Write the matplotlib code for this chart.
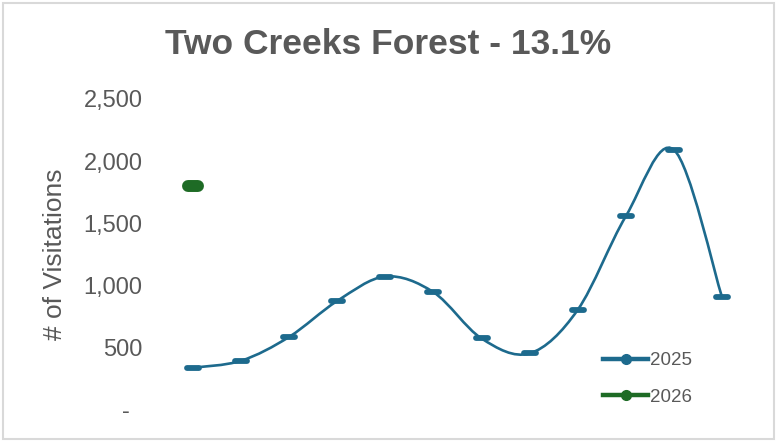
import matplotlib
matplotlib.use("Agg")
import matplotlib.pyplot as plt
from matplotlib.path import Path
from matplotlib.patches import PathPatch, Rectangle
from matplotlib.lines import Line2D
from matplotlib.markers import MarkerStyle

# data
months = ["Jan", "Feb", "Mar", "Apr", "May", "Jun",
          "Jul", "Aug", "Sep", "Oct", "Nov", "Dec"]
visits_2025 = [340, 396, 588, 877, 1073, 947, 575, 455, 805, 1557, 2092, 909]
visits_2026 = [1803]
y_ticks = [0, 500, 1000, 1500, 2000, 2500]
y_tick_labels = ["-  ", "500", "1,000", "1,500", "2,000", "2,500"]

BLUE = "#1D6A8D"
GREEN = "#1E6B25"
GREY = "#595959"


def smooth_path(xs, ys):
    # bezier segments like a spreadsheet "smoothed line"
    pts = list(zip(xs, ys))
    n = len(pts)
    verts = [pts[0]]
    codes = [Path.MOVETO]
    for i in range(n - 1):
        p0 = pts[i - 1] if i > 0 else pts[i]
        p1 = pts[i]
        p2 = pts[i + 1]
        p3 = pts[i + 2] if i + 2 < n else pts[i + 1]
        c1 = (p1[0] + (p2[0] - p0[0]) / 6, p1[1] + (p2[1] - p0[1]) / 6)
        c2 = (p2[0] - (p3[0] - p1[0]) / 6, p2[1] - (p3[1] - p1[1]) / 6)
        verts += [c1, c2, p2]
        codes += [Path.CURVE4] * 3
    return Path(verts, codes)


def main():
    plt.rcParams["font.family"] = ["Liberation Sans", "DejaVu Sans"]

    fig = plt.figure(figsize=(7.77, 4.42), dpi=100)
    ax = fig.add_axes([169 / 777, 1 - 410 / 442, 577 / 777, 311 / 442])

    x25 = list(range(len(visits_2025)))
    ax.add_patch(PathPatch(smooth_path(x25, visits_2025), facecolor="none",
                           edgecolor=BLUE, lw=1.9))
    ax.plot(x25, visits_2025, linestyle="none",
            marker=MarkerStyle("_", capstyle="round"), ms=8.5, mew=4.2,
            color=BLUE)

    x26 = list(range(len(visits_2026)))
    ax.plot(x26, visits_2026, linestyle="none",
            marker=MarkerStyle("_", capstyle="round"), ms=7.2, mew=8.6,
            color=GREEN)

    ax.set_xlim(-0.5, len(months) - 0.5)
    ax.set_ylim(0, 2500)
    ax.set_xticks([])
    ax.set_yticks(y_ticks)
    ax.set_yticklabels(y_tick_labels)
    ax.tick_params(axis="y", length=0, pad=19, labelsize=17, labelcolor=GREY)
    for s in ax.spines.values():
        s.set_visible(False)

    ax.set_ylabel("# of Visitations", fontsize=19, color=GREY, labelpad=12)

    fig.text(0.5, 1 - 44 / 442, "Two Creeks Forest - 13.1%", ha="center",
             va="center", fontsize=25.5, fontweight="bold", color=GREY)

    handles = [
        Line2D([], [], color=BLUE, lw=3.2, marker="o", ms=7),
        Line2D([], [], color=GREEN, lw=3.2, marker="o", ms=7),
    ]
    fig.legend(handles, ["2025", "2026"], loc="upper left",
               bbox_to_anchor=(603 / 777, 1 - 352 / 442), frameon=False,
               fontsize=13.5, labelcolor=GREY, handlelength=2.4,
               handletextpad=0.1, labelspacing=1.05, borderpad=0,
               borderaxespad=0)

    fig.patches.append(Rectangle((0.004, 0.006), 0.992, 0.988,
                                 transform=fig.transFigure, fill=False,
                                 edgecolor="#D9D9D9", lw=1.5))

    fig.savefig("out.png", dpi=100)


if __name__ == "__main__":
    main()
